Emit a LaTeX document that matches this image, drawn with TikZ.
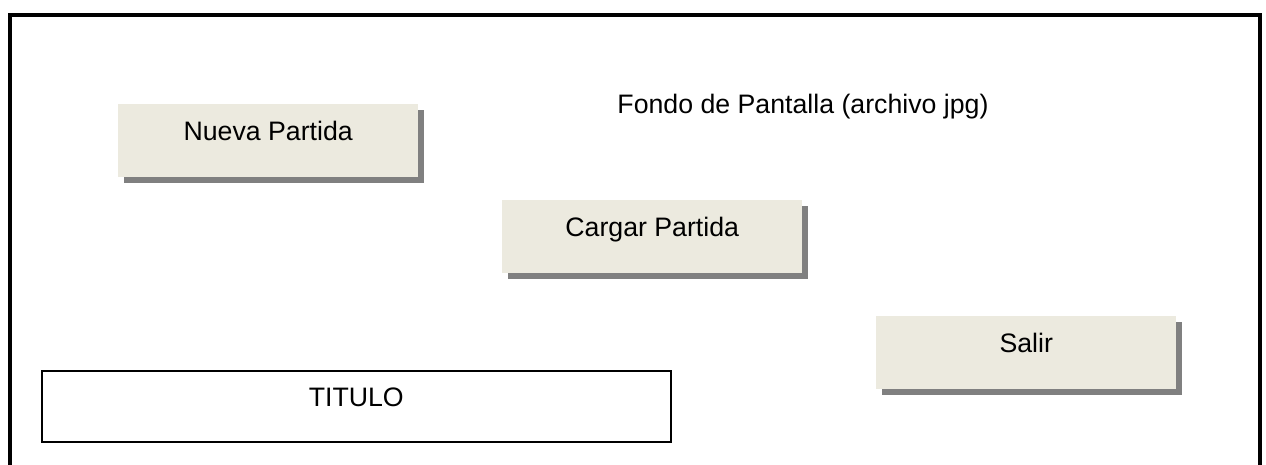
\documentclass[tikz,border=0pt]{standalone}
\usepackage{fontspec}
\setmainfont{Liberation Sans}
\usetikzlibrary{shadows}
\definecolor{btnfill}{HTML}{ECEADF}
\definecolor{shadowgray}{HTML}{808080}
\tikzset{
  btn/.style={rectangle, fill=btnfill, inner sep=0pt, anchor=north west,
    minimum width=300pt, minimum height=73pt, text height=36.5pt, text depth=36.5pt,
    drop shadow={shadow xshift=6pt, shadow yshift=-6pt, fill=shadowgray, opacity=1}},
  titlebox/.style={rectangle, draw=black, line width=1.5pt, inner sep=0pt, anchor=north west,
    minimum width=629pt, minimum height=71pt, text height=35.5pt, text depth=35.5pt},
  frame/.style={line width=4pt, draw=black}
}
\begin{document}
\begin{tikzpicture}[x=1pt, y=-1pt, font=\fontsize{26.7}{32}\selectfont]
\useasboundingbox (0,0) rectangle (1266,464);
\coordinate (f1) at (10,470);
\coordinate (f2) at (10,15);
\coordinate (f3) at (1260,15);
\coordinate (f4) at (1260,470);
\draw[frame] (f1) -- (f2) -- (f3) -- (f4);
\node[btn] (nueva) at (118,104) {Nueva Partida};
\node[btn] (cargar) at (502,200) {Cargar Partida};
\node[btn] (salir) at (876,316) {Salir};
\node[titlebox] (titulo) at (41,370) {TITULO};
\node[anchor=base, inner sep=0pt] (fondo) at (803,113.5) {Fondo de Pantalla (archivo jpg)};
\end{tikzpicture}
\end{document}
